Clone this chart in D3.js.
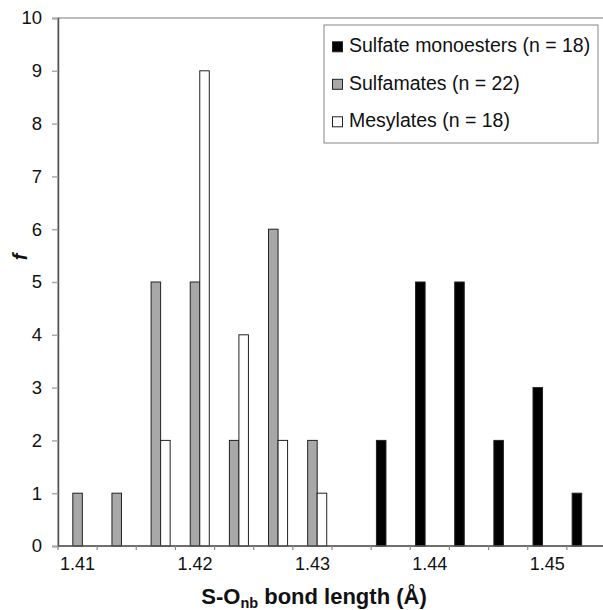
<!DOCTYPE html>
<html>
<head>
<meta charset="utf-8">
<script src="https://cdn.jsdelivr.net/npm/d3@7"></script>
<style>
  body { margin: 0; background: #fff; }
  text { font-family: "Liberation Sans", Arial, sans-serif; }
</style>
</head>
<body>
<script>
// bins of bond length (category axis), labelled every third bin
const bins = ["1.410", "1.413", "1.417", "1.420", "1.423", "1.427", "1.430",
  "1.433", "1.437", "1.440", "1.443", "1.447", "1.450", "1.453"];
const binLabels = ["1.41", "", "", "1.42", "", "", "1.43", "", "", "1.44", "", "", "1.45", ""];

const series = ["Sulfate monoesters (n = 18)", "Sulfamates (n = 22)", "Mesylates (n = 18)"];
const monoesters = [0, 0, 0, 0, 0, 0, 0, 0, 2, 5, 5, 2, 3, 1];
const sulfamates = [1, 1, 5, 5, 2, 6, 2, 0, 0, 0, 0, 0, 0, 0];
const mesylates = [0, 0, 2, 9, 4, 2, 1, 0, 0, 0, 0, 0, 0, 0];
const yTicks = [0, 1, 2, 3, 4, 5, 6, 7, 8, 9, 10];

const colors = ["#000000", "#a8a8a8", "#ffffff"];

const width = 603;
const height = 610;
const margin = { top: 18, right: -3, bottom: 64, left: 58 };

const svg = d3.select("body").append("svg")
  .attr("width", width)
  .attr("height", height);

const x0 = d3.scaleBand()
  .domain(bins)
  .range([margin.left, width - margin.right])
  .paddingInner(0.27)
  .paddingOuter(0.135);

const x1 = d3.scaleBand()
  .domain(series)
  .range([0, x0.bandwidth()]);

const y = d3.scaleLinear()
  .domain([0, 10])
  .range([height - margin.bottom, margin.top]);

// plot area border
svg.append("rect")
  .attr("x", margin.left)
  .attr("y", margin.top)
  .attr("width", width - margin.right - margin.left)
  .attr("height", y(0) - margin.top)
  .attr("fill", "none")
  .attr("stroke", "#a8a8a8")
  .attr("stroke-width", 1.5);

// bars
const rows = bins.map((b, i) => ({ bin: b, vals: [monoesters[i], sulfamates[i], mesylates[i]] }));

svg.append("g")
  .selectAll("g")
  .data(rows)
  .join("g")
  .attr("transform", (d) => `translate(${x0(d.bin)},0)`)
  .selectAll("rect")
  .data((d) => d.vals.map((v, k) => ({ key: series[k], v: v, k: k })).filter((e) => e.v > 0))
  .join("rect")
  .attr("x", (d) => x1(d.key))
  .attr("y", (d) => y(d.v))
  .attr("width", x1.bandwidth())
  .attr("height", (d) => y(0) - y(d.v))
  .attr("fill", (d) => colors[d.k])
  .attr("stroke", "#222")
  .attr("stroke-width", 1);

// y axis
const yAxis = svg.append("g")
  .attr("transform", `translate(${margin.left},0)`)
  .call(d3.axisLeft(y).tickValues(yTicks).tickSize(6).tickPadding(10).tickFormat(d3.format("d")));
yAxis.select(".domain").attr("stroke", "#555").attr("stroke-width", 1.5);
yAxis.selectAll(".tick line").attr("stroke", "#aaa").attr("stroke-width", 1.5);
yAxis.selectAll(".tick text").attr("font-size", "18.5px").attr("fill", "#111")
  .style("font-family", "Liberation Sans, Arial, sans-serif");

// x axis (category boundaries as ticks)
const xAxisG = svg.append("g")
  .attr("transform", `translate(0,${y(0)})`);
xAxisG.append("line")
  .attr("x1", margin.left)
  .attr("x2", width - margin.right)
  .attr("stroke", "#555")
  .attr("stroke-width", 1.5);
const step = x0.step();
xAxisG.selectAll("line.tick")
  .data(d3.range(bins.length + 1))
  .join("line")
  .attr("class", "tick")
  .attr("x1", (i) => margin.left + i * step)
  .attr("x2", (i) => margin.left + i * step)
  .attr("y1", 0)
  .attr("y2", 4)
  .attr("stroke", "#888")
  .attr("stroke-width", 1.2);
xAxisG.selectAll("text")
  .data(bins.filter((b, i) => binLabels[i] !== ""))
  .join("text")
  .attr("x", (d) => x0(d) + x0.bandwidth() / 2)
  .attr("y", 24)
  .attr("text-anchor", "middle")
  .attr("font-size", "18px")
  .attr("fill", "#111")
  .text((d) => binLabels[bins.indexOf(d)]);

// axis titles
const xTitle = svg.append("text")
  .attr("x", 314)
  .attr("y", 604)
  .attr("text-anchor", "middle")
  .attr("font-size", "22px")
  .attr("font-weight", "bold")
  .attr("fill", "#111");
xTitle.append("tspan").text("S-O");
xTitle.append("tspan").attr("font-size", "14.5px").attr("dy", 4).text("nb");
xTitle.append("tspan").attr("dy", -4).text(" bond length (Å)");

svg.append("text")
  .attr("transform", "translate(27,257) rotate(-90)")
  .attr("text-anchor", "middle")
  .attr("font-size", "20px")
  .attr("font-weight", "bold")
  .attr("font-style", "italic")
  .attr("fill", "#111")
  .text("f");

// legend
const legend = svg.append("g");
legend.append("rect")
  .attr("x", 324)
  .attr("y", 25)
  .attr("width", 274)
  .attr("height", 118)
  .attr("fill", "#fff")
  .attr("stroke", "#999")
  .attr("stroke-width", 1.2);

const items = legend.selectAll("g")
  .data(series)
  .join("g")
  .attr("transform", (d, i) => `translate(332,${52.3 + i * 37.5})`);
items.append("rect")
  .attr("x", 0.5)
  .attr("y", -10.5)
  .attr("width", 10)
  .attr("height", 10)
  .attr("fill", (d, i) => colors[i])
  .attr("stroke", "#222")
  .attr("stroke-width", 1);
items.append("text")
  .attr("x", 17)
  .attr("y", 0)
  .attr("font-size", "19.5px")
  .attr("fill", "#111")
  .text((d) => d);
</script>
</body>
</html>
